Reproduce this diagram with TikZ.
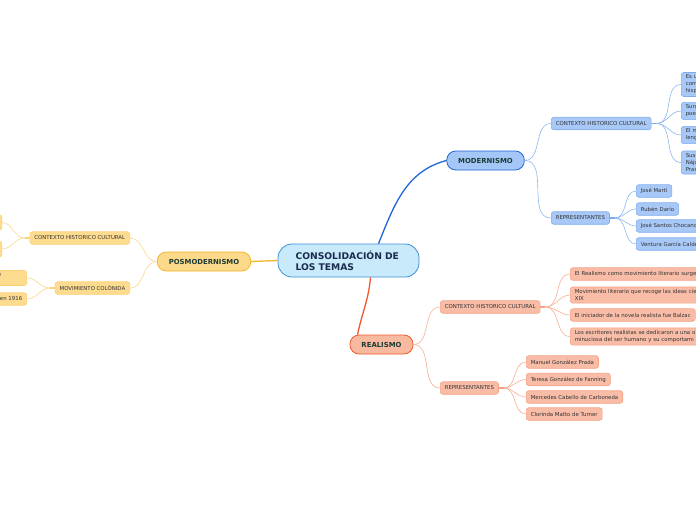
\documentclass[tikz,border=0pt]{standalone}
\usepackage{fontspec}
\setmainfont{DejaVu Sans}
\usetikzlibrary{positioning}
\definecolor{centerfill}{HTML}{C8EAFB}
\definecolor{centerdraw}{HTML}{3C90D6}
\definecolor{centertext}{HTML}{1B2B4F}
\definecolor{topictext}{HTML}{1C3B33}
\definecolor{leaftext}{HTML}{333333}
\definecolor{modfill}{HTML}{A5C7F7}
\definecolor{moddraw}{HTML}{2165D8}
\definecolor{modleaf}{HTML}{A8C9F8}
\definecolor{modleafdraw}{HTML}{7FABEF}
\definecolor{modlink}{HTML}{8DB5F0}
\definecolor{realfill}{HTML}{F8B9A1}
\definecolor{realdraw}{HTML}{EE5A2E}
\definecolor{realleaf}{HTML}{F9BDA7}
\definecolor{realleafdraw}{HTML}{F5A286}
\definecolor{reallink}{HTML}{F8AE94}
\definecolor{posfill}{HTML}{FDD98A}
\definecolor{posdraw}{HTML}{F3B425}
\definecolor{posleaf}{HTML}{FEDC8F}
\definecolor{posleafdraw}{HTML}{FCD179}
\definecolor{poslink}{HTML}{FCD68A}
\tikzset{
    % Central topic
    rootbox/.style={rectangle, rounded corners=14pt, draw=centerdraw, fill=centerfill,
                line width=0.8pt, minimum width=141pt, minimum height=33pt,
                text width=106pt, align=left, text=centertext,
                font=\fontsize{9.2}{11}\selectfont\bfseries},
    % Main branches
    topicbox/.style={rectangle, rounded corners=9pt, draw=#1draw, fill=#1fill,
                line width=0.8pt, minimum height=19pt, inner xsep=11.5pt,
                text=topictext, font=\fontsize{6.9}{8}\selectfont\bfseries},
    toplink/.style={line width=1.3pt, #1},
    % Sub topics and leaves
    leafbox/.style={rectangle, rounded corners=2.5pt, draw=#1leafdraw, fill=#1leaf,
                line width=0.6pt, minimum height=12.5pt, inner xsep=4.5pt, inner ysep=2.5pt,
                align=left, text=leaftext, font=\fontsize{5.4}{7}\selectfont},
    leaflink/.style={line width=0.6pt, #1link},
    stublink/.style={line width=1.8pt, #1leafdraw},
}
\begin{document}
\begin{tikzpicture}[x=1pt, y=-1pt]
\useasboundingbox (0,0) rectangle (696,520);
\clip (0,0) rectangle (696,520);

\node[rootbox] (cons) at (348.5,260.5) {CONSOLIDACIÓN DE\\LOS TEMAS};

% Modernismo
\node[topicbox=mod] (mod) at (485.5,160.5) {MODERNISMO};
\node[leafbox=mod, anchor=west] (mctx) at (551,123.5) {CONTEXTO HISTORICO CULTURAL};
\node[leafbox=mod, anchor=west] (mrep) at (551,218) {REPRESENTANTES};
\node[leafbox=mod, anchor=west, text width=40pt] (mctxa) at (681,84.5)  {Es u\\corr\\hisp};
\node[leafbox=mod, anchor=west, text width=40pt] (mctxb) at (681,111)   {Surg\\poe};
\node[leafbox=mod, anchor=west, text width=40pt] (mctxc) at (681,135)   {El m\\leng};
\node[leafbox=mod, anchor=west, text width=40pt] (mctxd) at (681,162.5) {Sus\\Nájo\\Prac};
\node[leafbox=mod, anchor=west] (mrepa) at (636,191) {José Martí};
\node[leafbox=mod, anchor=west] (mrepb) at (636,209) {Rubén Darío};
\node[leafbox=mod, anchor=west] (mrepc) at (636,226) {José Santos Chocano};
\node[leafbox=mod, anchor=west] (mrepd) at (636,244) {Ventura García Calderón};

% Realismo
\node[topicbox=real] (real) at (381.5,344.5) {REALISMO};
\node[leafbox=real, anchor=west] (rctx) at (440,307) {CONTEXTO HISTORICO CULTURAL};
\node[leafbox=real, anchor=west] (rrep) at (440,388) {REPRESENTANTES};
\node[leafbox=real, anchor=west, text width=140pt] (rctxa) at (570,274)   {El Realismo como movimiento literario surge};
\node[leafbox=real, anchor=west, text width=140pt] (rctxb) at (570,295)   {Movimiento literario que recoge las ideas cie\\XIX};
\node[leafbox=real, anchor=west] (rctxc) at (570,315) {El iniciador de la novela realista fue Balzac};
\node[leafbox=real, anchor=west, text width=140pt] (rctxd) at (570,336.5) {Los escritores realistas se dedicaron a una o\\minuciosa del ser humano y su comportami};
\node[leafbox=real, anchor=west] (rrepa) at (526,362)   {Manuel González Prada};
\node[leafbox=real, anchor=west] (rrepb) at (526,379.5) {Teresa González de Fanning};
\node[leafbox=real, anchor=west] (rrepc) at (526,397)   {Mercedes Cabello de Carboneda};
\node[leafbox=real, anchor=west] (rrepd) at (526,414)   {Clorinda Matto de Turner};

% Posmodernismo
\node[topicbox=pos] (pos) at (204,261.5) {POSMODERNISMO};
\node[leafbox=pos, anchor=east] (pctx) at (130,238) {CONTEXTO HISTORICO CULTURAL};
\node[leafbox=pos, anchor=east] (pcol) at (130,288) {MOVIMIENTO COLÓNIDA};
\node[leafbox=pos, anchor=east, minimum width=40pt, minimum height=15.5pt] (pctxa) at (2,222.5) {};
\node[leafbox=pos, anchor=east, minimum width=40pt, minimum height=16pt] (pctxb) at (2,249) {};
\node[leafbox=pos, anchor=east, text width=50pt, align=right] (pcola) at (27,278) {e\rule{21pt}{0pt}\\\mbox{}};
\node[leafbox=pos, anchor=east] (pcolb) at (27,299) {en 1916};

% main branches
\draw[toplink=moddraw] ([xshift=30pt]cons.north) to[out=68,in=195] (mod.west);
\draw[toplink=realdraw] ([xshift=22pt]cons.south) to[out=-95,in=78] ([xshift=-24pt]real.north);
\draw[toplink=posdraw] (cons.west) -- (pos.east);

% modernismo links
\draw[leaflink=mod] (mod.east) to[out=0,in=180] (mctx.west);
\draw[leaflink=mod] (mod.east) to[out=0,in=180] (mrep.west);
\coordinate (mctxo) at ([xshift=5pt]mctx.east);
\coordinate (mrepo) at ([xshift=5pt]mrep.east);
\draw[stublink=mod] (mctx.east) -- (mctxo);
\draw[stublink=mod] (mrep.east) -- (mrepo);
\draw[leaflink=mod] (mctxo) to[out=0,in=180] (mctxa.west);
\draw[leaflink=mod] (mctxo) to[out=0,in=180] (mctxb.west);
\draw[leaflink=mod] (mctxo) to[out=0,in=180] (mctxc.west);
\draw[leaflink=mod] (mctxo) to[out=0,in=180] (mctxd.west);
\draw[leaflink=mod] (mrepo) to[out=0,in=180] (mrepa.west);
\draw[leaflink=mod] (mrepo) to[out=0,in=180] (mrepb.west);
\draw[leaflink=mod] (mrepo) to[out=0,in=180] (mrepc.west);
\draw[leaflink=mod] (mrepo) to[out=0,in=180] (mrepd.west);

% realismo links
\draw[leaflink=real] (real.east) to[out=0,in=180] (rctx.west);
\draw[leaflink=real] (real.east) to[out=0,in=180] (rrep.west);
\coordinate (rctxo) at ([xshift=5pt]rctx.east);
\coordinate (rrepo) at ([xshift=5pt]rrep.east);
\draw[stublink=real] (rctx.east) -- (rctxo);
\draw[stublink=real] (rrep.east) -- (rrepo);
\draw[leaflink=real] (rctxo) to[out=0,in=180] (rctxa.west);
\draw[leaflink=real] (rctxo) to[out=0,in=180] (rctxb.west);
\draw[leaflink=real] (rctxo) to[out=0,in=180] (rctxc.west);
\draw[leaflink=real] (rctxo) to[out=0,in=180] (rctxd.west);
\draw[leaflink=real] (rrepo) to[out=0,in=180] (rrepa.west);
\draw[leaflink=real] (rrepo) to[out=0,in=180] (rrepb.west);
\draw[leaflink=real] (rrepo) to[out=0,in=180] (rrepc.west);
\draw[leaflink=real] (rrepo) to[out=0,in=180] (rrepd.west);

% posmodernismo links
\draw[leaflink=pos] (pos.west) to[out=180,in=0] (pctx.east);
\draw[leaflink=pos] (pos.west) to[out=180,in=0] (pcol.east);
\coordinate (pctxo) at ([xshift=-5pt]pctx.west);
\coordinate (pcolo) at ([xshift=-5pt]pcol.west);
\draw[stublink=pos] (pctx.west) -- (pctxo);
\draw[stublink=pos] (pcol.west) -- (pcolo);
\draw[leaflink=pos] (pctxo) to[out=180,in=0] (pctxa.east);
\draw[leaflink=pos] (pctxo) to[out=180,in=0] (pctxb.east);
\draw[leaflink=pos] (pcolo) to[out=180,in=0] (pcola.east);
\draw[leaflink=pos] (pcolo) to[out=180,in=0] (pcolb.east);
\end{tikzpicture}
\end{document}
